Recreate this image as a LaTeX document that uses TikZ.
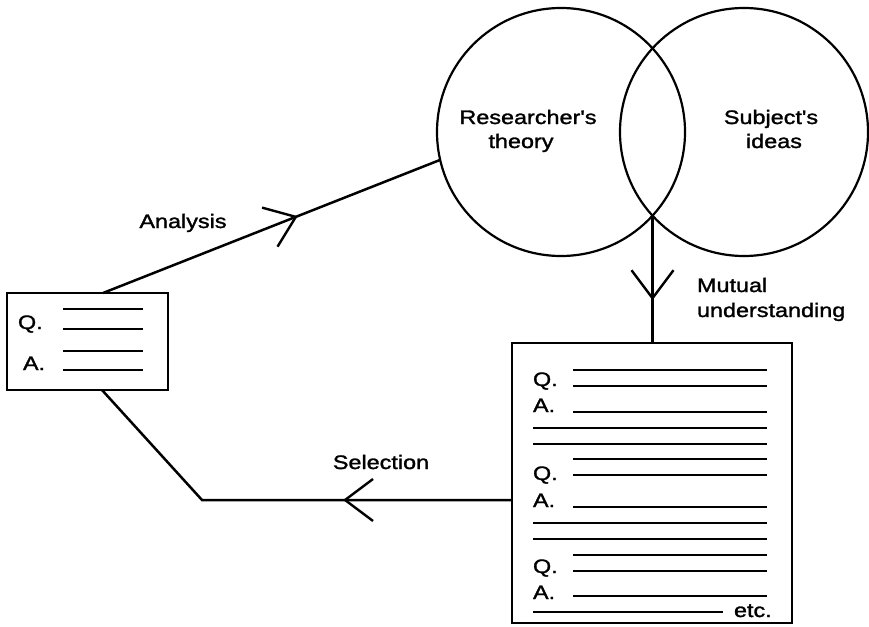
\documentclass[tikz,border=0pt]{standalone}
\usepackage{fontspec}
\setmainfont{Liberation Sans}[FakeStretch=1.2,FakeBold=1.5,Ligatures=TeXOff]
\usetikzlibrary{decorations.markings,calc}
\begin{document}
\begin{tikzpicture}[x=1pt,y=-1pt,
  txt/.style={font=\fontsize{19.5}{24}\selectfont, inner sep=0pt, outer sep=0pt},
  ln/.style={line width=2.5pt},
  frame/.style={draw, line width=2.4pt, inner sep=0pt, outer sep=0pt},
  ring/.style={draw, circle, line width=2.2pt, minimum size=248pt, inner sep=0pt, outer sep=0pt},
  arrmid/.style={postaction={decorate}, decoration={markings,
     mark=at position #1 with {\draw[line width=2.4pt] (-28,-21) -- (0,0) -- (-28,21);}}}
]
\useasboundingbox (0,0) rectangle (869,626);

% circles
\node[ring] (rt) at (561,132) {};
\node[ring] (si) at (744,132) {};
\node[txt, anchor=base] (rt1) at (528,124) {Researcher's};
\node[txt, anchor=base] (rt2) at (521,148) {theory};
\node[txt, anchor=base] (si1) at (771,124) {Subject's};
\node[txt, anchor=base] (si2) at (774,148) {ideas};
\coordinate (ix) at (652.5,215.7);

% boxes
\node[frame, minimum width=161pt, minimum height=97pt] (sbox) at (87.5,341.5) {};
\node[frame, minimum width=280pt, minimum height=280pt] (bbox) at (652,483) {};

% small box content
\node[txt, anchor=base west] (sq) at (18,329) {Q.};
\node[txt, anchor=base west] (sa) at (23,370) {A.};
\foreach \y in {309,329,351,370} \draw[ln] (63,\y) -- (143,\y);

% big box content
\node[txt, anchor=base west] (q1) at (533,386) {Q.};
\node[txt, anchor=base west] (a1) at (533,412) {A.};
\node[txt, anchor=base west] (q2) at (533,480) {Q.};
\node[txt, anchor=base west] (a2) at (533,507) {A.};
\node[txt, anchor=base west] (q3) at (533,573) {Q.};
\node[txt, anchor=base west] (a3) at (533,599) {A.};
\node[txt, anchor=base west] (etc) at (734,617) {etc.};
\foreach \y in {370,386,412,459,475,507,555,571,596} \draw[ln] (573,\y) -- (767,\y);
\foreach \y in {428,444,523,539} \draw[ln] (533,\y) -- (767,\y);
\draw[ln] (533,612) -- (723,612);

% connectors
\draw[ln, arrmid=0.572] ($(sbox.north west)+(96,0)$) -- (rt.193);
\node[txt, anchor=base] (an) at (183,228) {Analysis};

\draw[ln, arrmid=0.648] (ix) -- (ix |- bbox.north);
\node[txt, anchor=base west] (mu1) at (697,292) {Mutual};
\node[txt, anchor=base west] (mu2) at (697,317) {understanding};

\coordinate (sc) at (202,500);
\draw[ln, line join=miter, arrmid=0.364] (bbox.west |- sc) -- (sc) -- ($(sbox.south west)+(95,0)$);
\node[txt, anchor=base] (se) at (381,469) {Selection};
\end{tikzpicture}
\end{document}
